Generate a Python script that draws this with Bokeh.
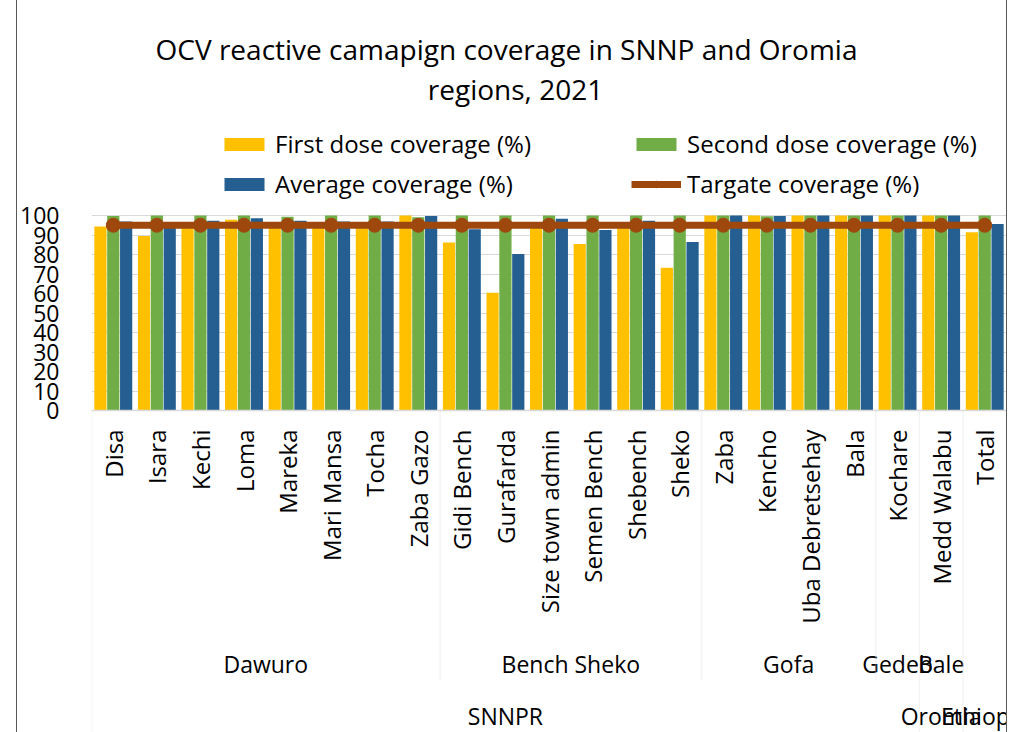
import math
from bokeh.plotting import figure
from bokeh.layouts import row
from bokeh.models import (FactorRange, Range1d, Legend, LegendItem, Label, BoxAnnotation,
                          FixedTicker, ColumnDataSource, Div)
from bokeh.transform import dodge
from bokeh.embed import file_html
from bokeh.resources import INLINE

# ---------------- data ----------------
districts = ["Disa", "Isara", "Kechi", "Loma", "Mareka", "Mari Mansa", "Tocha", "Zaba Gazo",
             "Gidi Bench", "Gurafarda", "Size town admin", "Semen Bench", "Shebench", "Sheko",
             "Zaba", "Kencho", "Uba Debretsehay", "Bala", "Kochare", "Medd Walabu", "Total"]
zones = ["Dawuro", "Dawuro", "Dawuro", "Dawuro", "Dawuro", "Dawuro", "Dawuro", "Dawuro",
         "Bench Sheko", "Bench Sheko", "Bench Sheko", "Bench Sheko", "Bench Sheko", "Bench Sheko",
         "Gofa", "Gofa", "Gofa", "Gofa", "Gedeb", "Bale", ""]
regions = ["SNNPR"] * 19 + ["Oromia", "Ethiopia"]

first_dose = [94.3, 89.5, 95.5, 97.8, 95.0, 95.0, 95.0, 100.0,
              86.1, 60.4, 96.7, 85.4, 95.0, 73.2,
              100.0, 100.0, 100.0, 100.0, 100.0, 100.0, 91.4]
second_dose = [99.7, 100.0, 100.0, 100.0, 99.3, 100.0, 100.0, 99.1,
               100.0, 100.0, 100.0, 100.0, 100.0, 100.0,
               100.0, 99.6, 100.0, 100.0, 100.0, 100.0, 100.0]
average = [96.9, 95.5, 97.3, 98.6, 97.3, 96.9, 96.9, 99.7,
           93.0, 80.3, 98.3, 92.6, 97.3, 86.4,
           100.0, 99.7, 100.0, 100.0, 100.0, 100.0, 95.7]
target = [95, 95, 95, 95, 95, 95, 95, 95, 95, 95, 95, 95, 95, 95,
          95, 95, 95, 95, 95, 95, 95]
y_ticks = [0, 10, 20, 30, 40, 50, 60, 70, 80, 90, 100]

title_lines = ["OCV reactive camapign coverage in SNNP and Oromia", "regions, 2021"]
series_names = ["First dose coverage (%)", "Second dose coverage (%)",
                "Average coverage (%)", "Targate coverage (%)"]

# ---------------- styles / layout ----------------
FONT = "Open Sans"
C_FIRST, C_SECOND, C_AVG, C_TARGET = "#FFC000", "#70AD47", "#255E91", "#9E480E"
GRID = "#D9D9D9"
BORDER = "#595959"

W, H = 1009, 732
BORDER_L = 17          # chart border x (left)
BORDER_R = 3           # space right of the plot area
FRAME_L = 90           # absolute x of plot area left edge
Y100_PX, Y0_PX = 215, 410   # absolute y of value 100 and value 0

px_per_unit = (Y0_PX - Y100_PX) / (y_ticks[-1] - y_ticks[0])
y_top = y_ticks[-1] + Y100_PX / px_per_unit
y_bot = y_ticks[0] - (H - Y0_PX) / px_per_unit

source = ColumnDataSource(dict(district=districts, first=first_dose, second=second_dose,
                               avg=average, target=target))

p = figure(width=W - BORDER_L - BORDER_R, height=H,
           x_range=FactorRange(*districts, range_padding=0, factor_padding=0),
           y_range=Range1d(y_bot, y_top), output_backend="svg", toolbar_location=None,
           title=None, min_border_left=FRAME_L - BORDER_L, min_border_right=0,
           min_border_top=0, min_border_bottom=0)
p.outline_line_color = None
p.background_fill_color = "white"
p.border_fill_color = "white"

bw = 0.28
step = 0.295
r1 = p.vbar(x=dodge("district", -step, range=p.x_range), top="first", width=bw, source=source,
            fill_color=C_FIRST, line_color=None)
r2 = p.vbar(x=dodge("district", 0, range=p.x_range), top="second", width=bw, source=source,
            fill_color=C_SECOND, line_color=None)
r3 = p.vbar(x=dodge("district", step, range=p.x_range), top="avg", width=bw, source=source,
            fill_color=C_AVG, line_color=None)
r4 = p.line(x="district", y="target", source=source, line_color=C_TARGET, line_width=7)
r5 = p.scatter(x="district", y="target", source=source, size=14, fill_color=C_TARGET,
               line_color=C_TARGET, marker="circle")

# y axis
ticker = FixedTicker(ticks=y_ticks)
p.yaxis.ticker = ticker
p.ygrid.ticker = ticker
p.yaxis.axis_line_color = None
p.yaxis.major_tick_line_color = None
p.yaxis.minor_tick_line_color = None
p.yaxis.major_label_text_font = FONT
p.yaxis.major_label_text_font_size = "23px"
p.yaxis.major_label_text_color = "black"
p.yaxis.major_label_standoff = 26

# x axis fixed at value 0 inside the frame
p.xaxis.fixed_location = 0
p.xaxis.axis_line_color = GRID
p.xaxis.axis_line_width = 1.5
p.xaxis.major_tick_line_color = None
p.xaxis.major_label_orientation = math.pi / 2
p.xaxis.major_label_text_font = FONT
p.xaxis.major_label_text_font_size = "24px"
p.xaxis.major_label_text_color = "black"
p.xaxis.major_label_standoff = 13

p.xgrid.grid_line_color = None
p.ygrid.grid_line_color = GRID
p.ygrid.grid_line_width = 1.2

# legends (two columns)
common = dict(label_text_font=FONT, label_text_font_size="24px", label_text_color="black",
              glyph_width=50, glyph_height=16, label_standoff=6, spacing=7,
              padding=0, margin=0, border_line_color=None, background_fill_alpha=0)
leg_a = Legend(items=[LegendItem(label=series_names[0], renderers=[r1]),
                      LegendItem(label=series_names[2], renderers=[r3])],
               location=(218 - FRAME_L, H - 200), **common)
leg_b = Legend(items=[LegendItem(label=series_names[1], renderers=[r2]),
                      LegendItem(label=series_names[3], renderers=[r4, r5])],
               location=(630 - FRAME_L, H - 200), **common)
p.add_layout(leg_a, "center")
p.add_layout(leg_b, "center")

# title (screen units relative to the plot area)
title_x = [505, 514]
for i, t in enumerate(title_lines):
    p.add_layout(Label(x=title_x[i] - FRAME_L, y=H - 48 - 40 * i, x_units="screen",
                       y_units="screen", text=t, text_font=FONT, text_font_size="28px",
                       text_color="black", text_align="center", text_baseline="middle"))

# zone / region group labels, computed from the data
def spans(keys):
    out = []
    start = 0
    for i in range(1, len(keys) + 1):
        if i == len(keys) or keys[i] != keys[start]:
            out.append((keys[start], start, i))
            start = i
    return out

zone_spans = spans([(r, z) for r, z in zip(regions, zones)])
region_spans = spans(regions)

for (r, z), s, e in zone_spans:
    if z:
        p.add_layout(Label(x=(s + e) / 2, y=H - 663, y_units="screen", text=z,
                           text_font=FONT, text_font_size="23px", text_color="black",
                           text_align="center", text_baseline="middle"))
for r, s, e in region_spans:
    p.add_layout(Label(x=(s + e) / 2, y=H - 715, y_units="screen", text=r,
                       text_font=FONT, text_font_size="23px", text_color="black",
                       text_align="center", text_baseline="middle"))

# separators between groups
region_bounds = sorted({s for _, s, _ in region_spans} | {e for _, _, e in region_spans})
zone_bounds = sorted({s for _, s, _ in zone_spans} - set(region_bounds))
for b in zone_bounds:
    p.add_layout(BoxAnnotation(left=b, right=b, top=0, bottom=H - 680,
                               bottom_units="screen", fill_alpha=0, line_color=GRID,
                               line_width=1.5))
for b in region_bounds[:-1]:
    p.add_layout(BoxAnnotation(left=b, right=b, top=0, bottom=-5,
                               bottom_units="screen", fill_alpha=0, line_color=GRID,
                               line_width=1.5))

# outer chart border (left and right edges)
left_border = Div(width=BORDER_L, height=H, margin=0,
                  styles={"border-right": f"1.5px solid {BORDER}", "box-sizing": "border-box"})
right_border = Div(width=BORDER_R, height=H, margin=0,
                   styles={"border-left": f"1.5px solid {BORDER}", "box-sizing": "border-box"})

layout = row(left_border, p, right_border, spacing=0)

open("out.html", "w").write(file_html(layout, INLINE))
